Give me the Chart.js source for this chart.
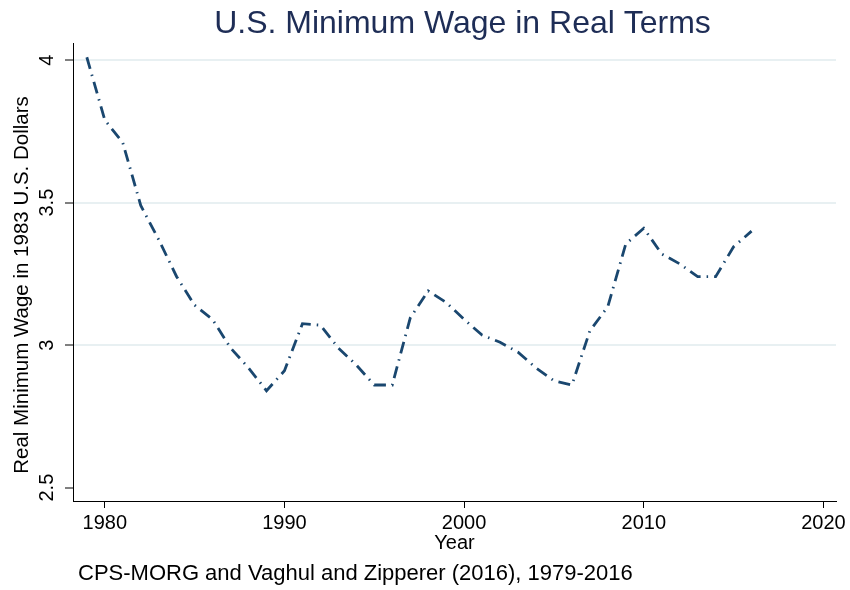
<!DOCTYPE html>
<html>
<head>
<meta charset="utf-8">
<script src="https://cdn.jsdelivr.net/npm/chart.js@4/dist/chart.umd.min.js"></script>
<style>
  html,body{margin:0;padding:0;background:#fff;}
  canvas{display:block;}
</style>
</head>
<body>
<canvas id="wage" width="850" height="590"></canvas>
<script>
// data
const years = [1979,1980,1981,1982,1983,1984,1985,1986,1987,1988,1989,1990,1991,1992,1993,1994,1995,1996,1997,
  1998,1999,2000,2001,2002,2003,2004,2005,2006,2007,2008,2009,2010,2011,2012,2013,2014,2015,2016];
const realWage = [4.01,3.79,3.71,3.49,3.37,3.24,3.14,3.09,2.99,2.92,2.84,2.91,3.075,3.07,2.99,2.93,2.86,2.86,3.095,
  3.19,3.15,3.09,3.035,3.01,2.975,2.92,2.875,2.86,3.05,3.135,3.355,3.41,3.32,3.285,3.24,3.24,3.345,3.40];
const xTicks = [1980,1990,2000,2010,2020];
const yTicks = [2.5,3,3.5,4];

const titleText = 'U.S. Minimum Wage in Real Terms';
const yTitle = 'Real Minimum Wage in 1983 U.S. Dollars';
const xTitle = 'Year';
const note = 'CPS-MORG and Vaghul and Zipperer (2016), 1979-2016';

const FONT = '"Liberation Sans", Arial, Helvetica, sans-serif';

// stata-ish text: title, rotated y labels, x labels, note
const stataText = {
  id: 'stataText',
  afterDraw(chart){
    const ctx = chart.ctx, xs = chart.scales.x, ys = chart.scales.y, area = chart.chartArea;
    const mid = (area.left + area.right) / 2;
    ctx.save();
    ctx.fillStyle = '#1e2d56';
    ctx.font = '32px ' + FONT;
    ctx.textAlign = 'center';
    ctx.textBaseline = 'alphabetic';
    ctx.fillText(titleText, mid + 8, 33);

    ctx.fillStyle = '#000';
    ctx.font = '20px ' + FONT;
    xTicks.forEach(v => ctx.fillText(String(v), xs.getPixelForValue(v), 529));
    ctx.fillText(xTitle, mid, 549);

    yTicks.forEach(v => {
      ctx.save();
      ctx.translate(53, ys.getPixelForValue(v));
      ctx.rotate(-Math.PI/2);
      ctx.fillText(String(v), 0, 0);
      ctx.restore();
    });
    ctx.save();
    ctx.translate(28, 285);
    ctx.rotate(-Math.PI/2);
    ctx.font = '20.5px ' + FONT;
    ctx.fillText(yTitle, 0, 0);
    ctx.restore();

    ctx.textAlign = 'left';
    ctx.font = '22px ' + FONT;
    ctx.fillText(note, 78, 580);
    ctx.restore();
  }
};

new Chart(document.getElementById('wage'), {
  type: 'line',
  data: {
    datasets: [{
      data: years.map((y,i) => ({x: y, y: realWage[i]})),
      borderColor: '#1a476f',
      borderWidth: 2.8,
      borderDash: [12,6,1.5,6],
      borderCapStyle: 'butt',
      pointRadius: 0,
      tension: 0,
      fill: false
    }]
  },
  options: {
    responsive: false,
    animation: false,
    devicePixelRatio: 1,
    layout: {padding: {left: 0, top: 43, right: 14, bottom: 0}},
    plugins: {legend: {display: false}, title: {display: false}, tooltip: {enabled: false}},
    scales: {
      x: {
        type: 'linear',
        min: 1978.23,
        max: 2020.7,
        afterBuildTicks: s => { s.ticks = xTicks.map(v => ({value: v})); },
        afterFit: s => { s.height = 89; },
        ticks: {display: false},
        grid: {drawOnChartArea: false, tickLength: 7, tickColor: '#000', tickWidth: 1},
        border: {color: '#000', width: 1}
      },
      y: {
        min: 2.453,
        max: 4.06,
        afterBuildTicks: s => { s.ticks = yTicks.map(v => ({value: v})); },
        afterFit: s => { s.width = 73; },
        ticks: {display: false},
        grid: {
          color: c => c.tick && c.tick.value === 2.5 ? 'rgba(0,0,0,0)' : '#e8f0f2',
          lineWidth: 2,
          tickLength: 8,
          tickColor: '#000',
          tickWidth: 1
        },
        border: {color: '#000', width: 1}
      }
    }
  },
  plugins: [stataText]
});
</script>
</body>
</html>
